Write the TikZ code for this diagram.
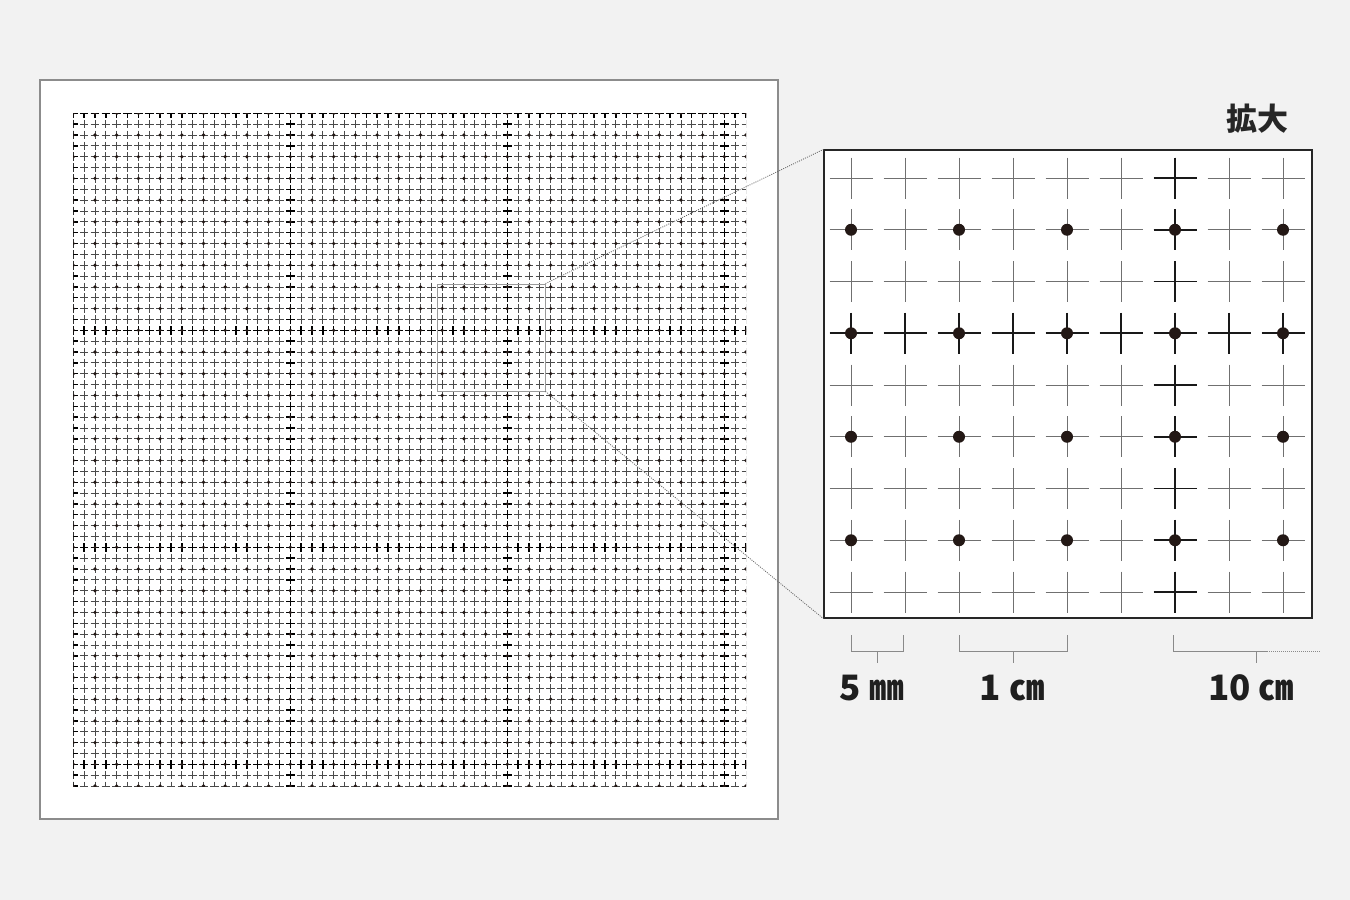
\documentclass[tikz,border=0pt]{standalone}
\usepackage{fontspec}
\newfontfamily\jp{Noto Sans CJK JP}
\definecolor{bg}{HTML}{F2F2F2}
\definecolor{framec}{HTML}{8C8C8C}
\definecolor{thinc}{HTML}{4A4A4A}
\definecolor{insthin}{HTML}{707070}
\definecolor{dotc}{HTML}{231815}
\definecolor{brkc}{HTML}{8A8A8A}
\definecolor{rectc}{HTML}{9A9A9A}
\tikzset{
  sheet/.style={draw=framec, line width=1.4pt, fill=white, inner sep=0pt, minimum width=738pt, minimum height=739pt},
  gridthin/.style={thinc, line width=0.8pt, dash pattern=on 8.6pt off 2.25pt, dash phase=4.3pt},
  gridheavy/.style={black, line width=1.4pt, dash pattern=on 8.6pt off 2.25pt, dash phase=4.3pt},
  armheavy/.style={black, line width=1.4pt},
  zoombox/.style={draw=rectc, line width=0.9pt, inner sep=0pt, minimum width=108pt, minimum height=107pt},
  insetbox/.style={draw=black!85, line width=1.2pt, fill=white, inner sep=0pt, minimum width=488pt, minimum height=468pt},
  conn/.style={draw=black!60, line width=0.8pt, dash pattern=on 1pt off 1.2pt},
  crossthin/.style={insthin, line width=1pt},
  crossheavy/.style={black!90, line width=1.8pt},
  brk/.style={brkc, line width=1pt},
  brkdot/.style={brkc, line width=1pt, dash pattern=on 1pt off 1pt},
  lbl/.style={font=\jp\bfseries\fontsize{35}{40}\selectfont, text=black!88, inner sep=0pt, anchor=base},
  ttl/.style={font=\jp\bfseries\fontsize{31}{36}\selectfont, text=black!85, inner sep=0pt}
}
\begin{document}
\begin{tikzpicture}[x=1pt,y=-1pt]
\useasboundingbox (0,0) rectangle (1350,900);
\fill[bg] (0,0) rectangle (1350,900);
% left sheet
\node[sheet] (sheet) at (409,449.5) {};
% left grid
\begin{scope}
\clip (73.3,113.3) rectangle (746.0,786.0);
\foreach \j in {0,...,62} {
  \draw[gridthin] (73.3,{113.3+10.85*\j}) -- (746.0,{113.3+10.85*\j});
  \draw[gridthin] ({73.3+10.85*\j},113.3) -- ({73.3+10.85*\j},786.0);
}
\foreach \c in {0,20,40,60} {
  \draw[gridheavy] (73.3,{113.3+10.85*\c}) -- (746.0,{113.3+10.85*\c});
  \draw[gridheavy] ({73.3+10.85*\c},113.3) -- ({73.3+10.85*\c},786.0);
  \draw[armheavy] \foreach \j in {0,...,62} {
    ({73.3+10.85*\c-4.3},{113.3+10.85*\j}) -- ({73.3+10.85*\c+4.3},{113.3+10.85*\j})
    ({73.3+10.85*\j},{113.3+10.85*\c-4.3}) -- ({73.3+10.85*\j},{113.3+10.85*\c+4.3})
  };
}
\foreach \j in {0,2,...,62} {
  \fill[dotc] \foreach \i in {0,2,...,62} {({73.3+10.85*\i},{113.3+10.85*\j}) circle[radius=1.8pt]};
}
\end{scope}
% zoom rectangle and inset
\node[zoombox] (src) at (491,337.5) {};
\node[insetbox] (inset) at (1068,384) {};
\draw[conn] (src.north east) -- (inset.north west);
\draw[conn] (src.south east) -- (inset.south west);
% inset crosses
\foreach \k in {0,...,8} {
  \foreach \m in {0,...,8} {
    \draw[crossthin] ({851+54*\k-21.5},{178+51.75*\m}) -- ({851+54*\k+21.5},{178+51.75*\m})
                     ({851+54*\k},{178+51.75*\m-20.5}) -- ({851+54*\k},{178+51.75*\m+20.5});
  }
}
\foreach \k in {0,...,8} {
  \draw[crossheavy] ({851+54*\k-21.5},{178+51.75*3}) -- ({851+54*\k+21.5},{178+51.75*3})
                    ({851+54*\k},{178+51.75*3-20.5}) -- ({851+54*\k},{178+51.75*3+20.5});
  \draw[crossheavy] ({851+54*6-21.5},{178+51.75*\k}) -- ({851+54*6+21.5},{178+51.75*\k})
                    ({851+54*6},{178+51.75*\k-20.5}) -- ({851+54*6},{178+51.75*\k+20.5});
}
\foreach \k in {0,2,4,6,8} {
  \foreach \m in {1,3,5,7} {
    \fill[dotc] ({851+54*\k},{178+51.75*\m}) circle[radius=6pt];
  }
}
% title
\node[ttl] (title) at (1257.5,119) {拡大};
% brackets
\draw[brk] (851.5,635) -- (851.5,651.5) -- (903.5,651.5) -- (903.5,635);
\draw[brk] (877.5,651.5) -- (877.5,663);
\draw[brk] (959.5,635) -- (959.5,651.5) -- (1067.5,651.5) -- (1067.5,635);
\draw[brk] (1013.5,651.5) -- (1013.5,663);
\draw[brk] (1173.5,635) -- (1173.5,651.5) -- (1267,651.5);
\draw[brkdot] (1267,651.5) -- (1320,651.5);
\draw[brk] (1256,651.5) -- (1256,663);
% labels
\node[lbl] (l5) at (872,700) {5 ㎜};
\node[lbl] (l1) at (1012,700) {1 ㎝};
\node[lbl] (l10) at (1251,700) {10 ㎝};
\end{tikzpicture}
\end{document}
